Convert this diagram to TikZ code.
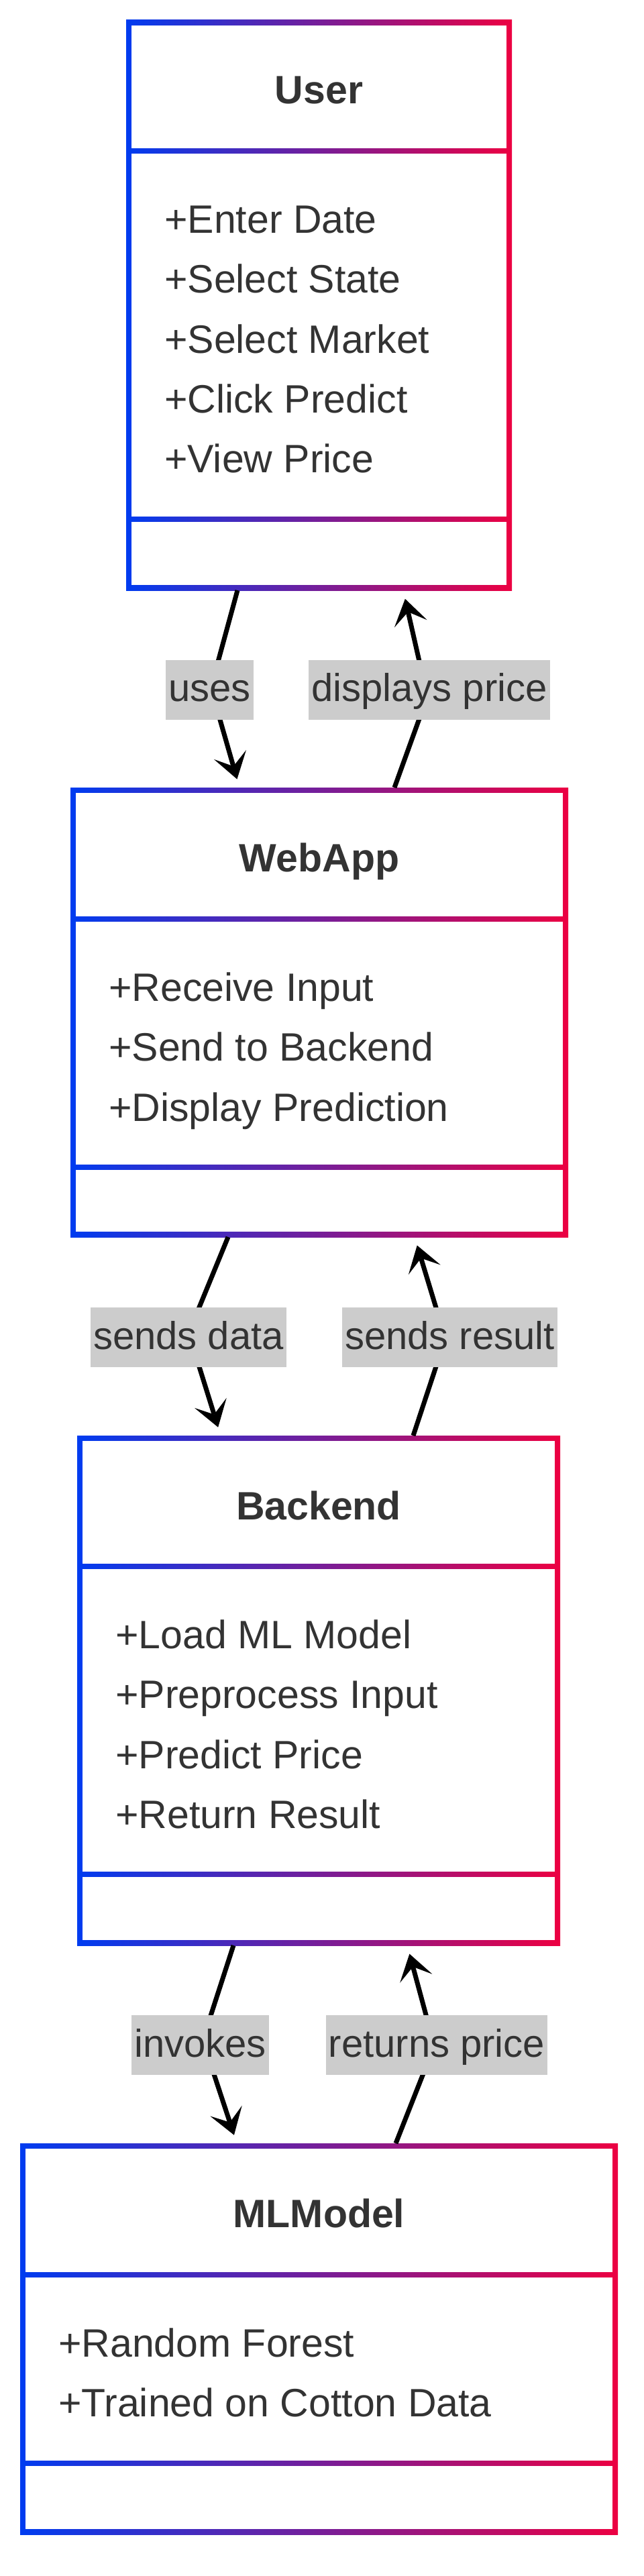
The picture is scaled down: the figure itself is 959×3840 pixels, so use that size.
\documentclass[tikz,border=0pt]{standalone}
\usepackage{fontspec}
\setmainfont{Liberation Sans}
\usetikzlibrary{arrows.meta,fit,backgrounds}
\definecolor{clsblue}{RGB}{0,60,240}
\definecolor{clsred}{RGB}{236,0,66}
\definecolor{txtgray}{HTML}{333333}
\definecolor{lblgray}{HTML}{CCCCCC}
\tikzset{
  clsframe/.style={inner sep=0pt, outer sep=0pt, left color=clsblue, right color=clsred},
  clstitle/.style={font=\fontsize{59}{70}\selectfont\bfseries, text=txtgray, inner sep=0pt, text height=42pt, text depth=0pt},
  member/.style={font=\fontsize{59}{70}\selectfont, text=txtgray, anchor=west, inner sep=0pt, text height=42pt, text depth=0pt},
  lbl/.style={fill=lblgray, font=\fontsize{58}{70}\selectfont, text=txtgray, inner xsep=4pt, inner ysep=0pt, text height=41.5pt, text depth=6pt, minimum height=89pt},
  rel/.style={line width=7pt, -{Stealth[length=38pt,width=50pt,inset=18pt,line width=0pt]}, shorten >=13pt},
}
\begin{document}
\begin{tikzpicture}[x=1pt,y=-1pt]
  \useasboundingbox (0,0) rectangle (959,3840);
  \fill[white] (0,0) rectangle (959,3840);
  % class boxes: name/left/top/right/bottom/sep1/sep2/title
  \foreach \nm/\xa/\ya/\xb/\yb/\sa/\sb/\ttl in {
      user/188/30/763/880/225/774/User,
      webapp/105/1174/847/1844/1370/1740/WebApp,
      backend/115/2140/835/2900/2335/2794/Backend,
      mlmodel/30/3195/921/3778/3391/3672/MLModel} {
      \begin{scope}[on background layer]
        \foreach \s in {3,6,9,12,15}
          \fill[black,opacity=0.018] (\xa-\s,\ya-\s+6) rectangle (\xb+\s,\yb+\s+6);
      \end{scope}
      \node[clsframe, fit={(\xa,\ya) (\xb,\yb)}] (\nm) {};
      \fill[white] (\xa+8,\ya+8) rectangle (\xb-8,\sa-4);
      \fill[white] (\xa+8,\sa+4) rectangle (\xb-8,\sb-4);
      \fill[white] (\xa+8,\sb+4) rectangle (\xb-8,\yb-8);
      \node[clstitle] (\nm-title) at ({(\xa+\xb)/2},\ya+104) {\ttl};
    }
  \foreach \m [count=\i from 0] in {+Enter Date,+Select State,+Select Market,+Click Predict,+View Price}
    \node[member] (user-m\i) at (245,326.5+89.3*\i) {\m};
  \foreach \m [count=\i from 0] in {+Receive Input,+Send to Backend,+Display Prediction}
    \node[member] (webapp-m\i) at (162,1471.5+89.3*\i) {\m};
  \foreach \m [count=\i from 0] in {+Load ML Model,+Preprocess Input,+Predict Price,+Return Result}
    \node[member] (backend-m\i) at (172,2436.5+89.3*\i) {\m};
  \foreach \m [count=\i from 0] in {+Random Forest,+Trained on Cotton Data}
    \node[member] (mlmodel-m\i) at (87,3492.5+89.3*\i) {\m};

  % relations (the bend sits under the label)
  \draw[rel] (354,0 |- user.south) -- (324,990) .. controls (319,1028) .. (326,1066) -- (357,0 |- webapp.north);
  \draw[rel] (588,0 |- webapp.north) -- (627,1066) .. controls (631,1028) .. (626,990) -- (601,0 |- user.south);
  \draw[rel] (340,0 |- webapp.south) -- (294,1956) .. controls (289,1993) .. (295,2031) -- (329,0 |- backend.north);
  \draw[rel] (616,0 |- backend.north) -- (652,2031) .. controls (657,1993) .. (652,1956) -- (618,0 |- webapp.south);
  \draw[rel] (348,0 |- backend.south) -- (312,3011) .. controls (309,3048) .. (317,3086) -- (353,0 |- mlmodel.north);
  \draw[rel] (590,0 |- mlmodel.north) -- (633,3086) .. controls (640,3048) .. (637,3011) -- (607,0 |- backend.south);

  \node[lbl] (uses) at (312.5,1028) {uses};
  \node[lbl] (displays) at (640,1028) {displays price};
  \node[lbl] (sendsdata) at (281,1993.5) {sends data};
  \node[lbl] (sendsresult) at (670.5,1993.5) {sends result};
  \node[lbl] (invokes) at (298.5,3048.5) {invokes};
  \node[lbl] (returns) at (651,3048.5) {returns price};
\end{tikzpicture}
\end{document}
